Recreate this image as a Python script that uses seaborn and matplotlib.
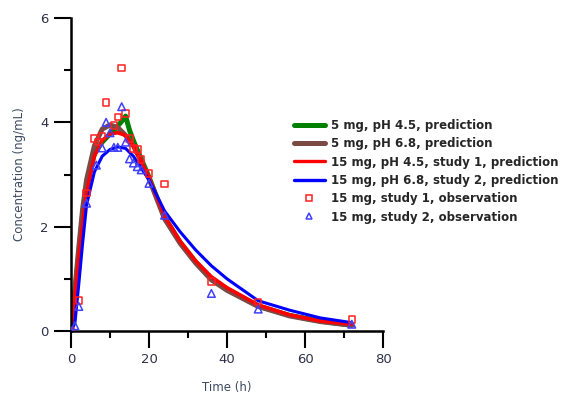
import matplotlib
matplotlib.use("Agg")
import matplotlib.pyplot as plt
import seaborn as sns
import pandas as pd
from matplotlib.lines import Line2D
from matplotlib.ticker import MultipleLocator

# ---- data ----
t_green = [0, 1, 2, 3, 4, 6, 8, 10, 11, 12, 13, 14, 15, 16, 17, 18, 20, 24, 28, 32, 36, 40, 48, 56, 64, 72]
c_green = [0, 0.7, 1.5, 2.25, 2.8, 3.4, 3.62, 3.78, 3.85, 3.93, 4.02, 4.12, 3.85, 3.65, 3.47, 3.3, 2.95, 2.18, 1.7, 1.32, 1.0, 0.8, 0.48, 0.3, 0.19, 0.11]

t_brown = [0, 1, 2, 3, 4, 6, 8, 10, 12, 14, 16, 18, 20, 24, 28, 32, 36, 40, 48, 56, 64, 72]
c_brown = [0, 0.8, 1.6, 2.35, 2.9, 3.55, 3.87, 3.95, 3.9, 3.75, 3.55, 3.25, 2.92, 2.15, 1.68, 1.3, 0.98, 0.78, 0.47, 0.29, 0.18, 0.11]

t_red = [0, 1, 2, 3, 4, 6, 8, 10, 12, 14, 16, 18, 20, 24, 28, 32, 36, 40, 48, 56, 64, 72]
c_red = [0, 0.65, 1.4, 2.05, 2.65, 3.35, 3.65, 3.78, 3.8, 3.75, 3.55, 3.25, 2.95, 2.2, 1.72, 1.34, 1.04, 0.83, 0.5, 0.31, 0.19, 0.13]

t_blue = [0, 1, 2, 3, 4, 6, 8, 10, 12, 14, 16, 18, 20, 24, 28, 32, 36, 40, 48, 56, 64, 72]
c_blue = [0, 0.15, 0.9, 1.7, 2.42, 3.05, 3.35, 3.48, 3.53, 3.5, 3.35, 3.12, 2.9, 2.3, 1.9, 1.55, 1.25, 1.0, 0.58, 0.4, 0.25, 0.16]

t_obs1 = [0, 2, 4, 6, 7, 8, 9, 11, 12, 13, 14, 15, 16, 17, 18, 20, 24, 36, 48, 72]
c_obs1 = [0, 0.58, 2.65, 3.69, 3.62, 3.74, 4.38, 3.94, 4.10, 5.04, 4.17, 3.69, 3.50, 3.48, 3.29, 3.02, 2.82, 0.95, 0.56, 0.22]

t_obs2 = [0, 1, 2, 4, 6.5, 8, 9, 10, 11, 12, 13, 14, 15, 16, 17, 18, 20, 24, 36, 48, 72]
c_obs2 = [0, 0.1, 0.47, 2.45, 3.18, 3.51, 4.0, 3.8, 3.52, 3.52, 4.3, 3.62, 3.3, 3.22, 3.15, 3.09, 2.83, 2.22, 0.72, 0.42, 0.13]

labels = ["5 mg, pH 4.5, prediction",
          "5 mg, pH 6.8, prediction",
          "15 mg, pH 4.5, study 1, prediction",
          "15 mg, pH 6.8, study 2, prediction",
          "15 mg, study 1, observation",
          "15 mg, study 2, observation"]

sns.set_theme(style="white")
plt.rcParams['font.family'] = ['DejaVu Sans']

fig = plt.figure(figsize=(5.69, 3.97), dpi=100)
ax = fig.add_axes([71/569, 66/397, 312/569, 313/397])

line_specs = [
    (t_green, c_green, "#008000", 3.6),
    (t_brown, c_brown, "#7B4A44", 3.6),
    (t_red, c_red, "#FF0000", 2.6),
    (t_blue, c_blue, "#0000FF", 2.2),
]
for (t, c, col, lw) in line_specs:
    df = pd.DataFrame({"t": t, "c": c})
    sns.lineplot(data=df, x="t", y="c", ax=ax, color=col, linewidth=lw,
                 estimator=None, sort=False, legend=False)

df1 = pd.DataFrame({"t": t_obs1, "c": c_obs1})
df2 = pd.DataFrame({"t": t_obs2, "c": c_obs2})
sns.scatterplot(data=df1, x="t", y="c", ax=ax, marker="s", s=22,
                facecolor="none", edgecolor="#FF2020", linewidth=1.1, zorder=5, legend=False)
sns.scatterplot(data=df2, x="t", y="c", ax=ax, marker="^", s=30,
                facecolor="none", edgecolor="#4040FF", linewidth=1.1, zorder=5, legend=False)

ax.set_xlim(0, 80)
ax.set_ylim(0, 6)
ax.xaxis.set_major_locator(MultipleLocator(20))
ax.xaxis.set_minor_locator(MultipleLocator(10))
ax.yaxis.set_major_locator(MultipleLocator(2))
ax.yaxis.set_minor_locator(MultipleLocator(1))
for s in ["top", "right"]:
    ax.spines[s].set_visible(False)
for s in ["left", "bottom"]:
    ax.spines[s].set_color("black")
    ax.spines[s].set_linewidth(1.8)
ax.tick_params(which="major", direction="out", length=12, width=1.5, color="black",
               labelsize=9.5, labelcolor="#30304a", bottom=True, left=True, pad=4)
ax.tick_params(which="minor", direction="out", length=5, width=1.5, color="black",
               bottom=True, left=True)
ax.set_xlabel("Time (h)", fontsize=8.5, color="#3c4a60", labelpad=11)
ax.set_ylabel("Concentration (ng/mL)", fontsize=8.5, color="#3c4a60", labelpad=10)
ax.patch.set_alpha(0)

handles = [
    Line2D([], [], color="#008000", lw=3.6),
    Line2D([], [], color="#7B4A44", lw=3.6),
    Line2D([], [], color="#FF0000", lw=2.4),
    Line2D([], [], color="#0000FF", lw=2.4),
    Line2D([], [], color="#FF2020", lw=0, marker="s", markersize=4,
           markerfacecolor="none", markeredgewidth=1.1),
    Line2D([], [], color="#4040FF", lw=0, marker="^", markersize=4.5,
           markerfacecolor="none", markeredgewidth=1.1),
]
fig.legend(handles, labels, loc="upper left", bbox_to_anchor=(294/569, 1 - 119/397),
           frameon=False, prop={"weight": "bold", "size": 8.5}, labelspacing=0.45,
           handlelength=2.6, handletextpad=0.55, borderaxespad=0, borderpad=0)

fig.savefig("out.png", dpi=100)
